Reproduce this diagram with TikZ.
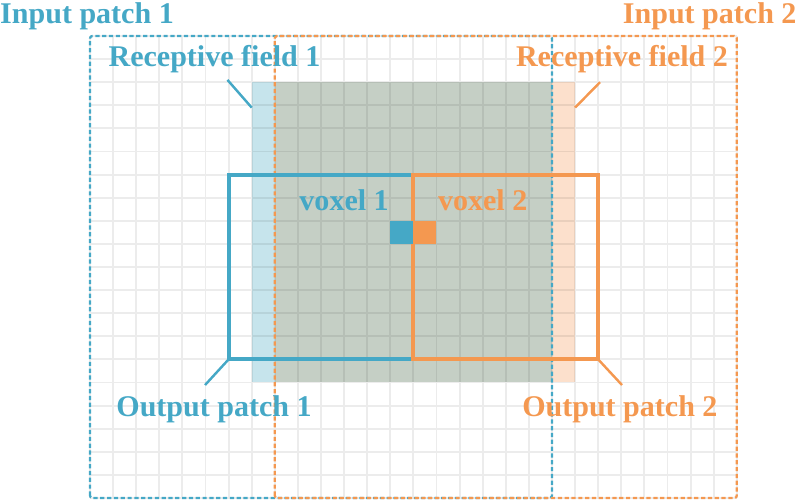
\documentclass[tikz,border=0pt]{standalone}
\usepackage{fontspec}
\setmainfont{Liberation Serif}
\definecolor{pblue}{HTML}{45A8C6}
\definecolor{porange}{HTML}{F49850}
\definecolor{rfblue}{HTML}{C6E4EC}
\definecolor{rforange}{HTML}{FCE0CC}
\definecolor{rfboth}{HTML}{C5CFC5}
\begin{document}
\begin{tikzpicture}[
            x=0.5cm, y=0.5cm,
            every node/.style = {font=\bfseries\fontsize{18.5}{20}\selectfont, inner sep=0pt},
            gridline/.style = {draw=black, draw opacity=0.075, line width=1.2pt, step=0.5cm},
            inpatch/.style = {line width=1.4pt, dash pattern=on 2.6pt off 1.6pt, rounded corners=1.5pt},
            outpatch/.style = {line width=2.5pt},
            pointer/.style = {line width=1.5pt}
          ]
          \useasboundingbox (-3.896,-0.173) rectangle (30.736,21.558);
          % receptive fields
          \fill[rfblue] (7,5) rectangle (8,18);
          \fill[rfboth] (8,5) rectangle (20,18);
          \fill[rforange] (20,5) rectangle (21,18);
          % grid
          \draw[gridline] (0,0) grid (28,20);
          % input patches
          \draw[inpatch, pblue] (0,0) rectangle (20,20);
          \draw[inpatch, porange] (8,0) rectangle (28,20);
          % output patches and voxels
          \draw[outpatch, pblue] (6,6) rectangle (14,14);
          \draw[outpatch, porange] (14,6) rectangle (22,14);
          \fill[pblue] (13,11) rectangle (14,12);
          \fill[porange] (14,11) rectangle (15,12);
          % labels
          \node[pblue, anchor=west] (in1) at (-3.9,20.85) {Input patch 1};
          \node[porange, anchor=east] (in2) at (30.6,20.85) {Input patch 2};
          \node[pblue] (rf1) at (5.39,19.02) {Receptive field 1};
          \node[porange] (rf2) at (23.03,18.98) {Receptive field 2};
          \node[pblue] (out1) at (5.37,3.85) {Output patch 1};
          \node[porange] (out2) at (22.94,3.85) {Output patch 2};
          \node[pblue] (vox1) at (11.0,12.9) {voxel 1};
          \node[porange] (vox2) at (17.0,12.9) {voxel 2};
          % pointers
          \coordinate (rf1tail) at (5.95,18.1);
          \coordinate (rf1tip) at (7,16.9);
          \coordinate (rf2tail) at (22.08,18.0);
          \coordinate (rf2tip) at (21,16.9);
          \coordinate (out1tail) at (4.98,4.89);
          \coordinate (out1tip) at (6,6);
          \coordinate (out2tail) at (23.03,4.89);
          \coordinate (out2tip) at (22,6);
          \draw[pointer, pblue] (rf1tail) -- (rf1tip);
          \draw[pointer, porange] (rf2tail) -- (rf2tip);
          \draw[pointer, pblue] (out1tail) -- (out1tip);
          \draw[pointer, porange] (out2tail) -- (out2tip);
\end{tikzpicture}
\end{document}
